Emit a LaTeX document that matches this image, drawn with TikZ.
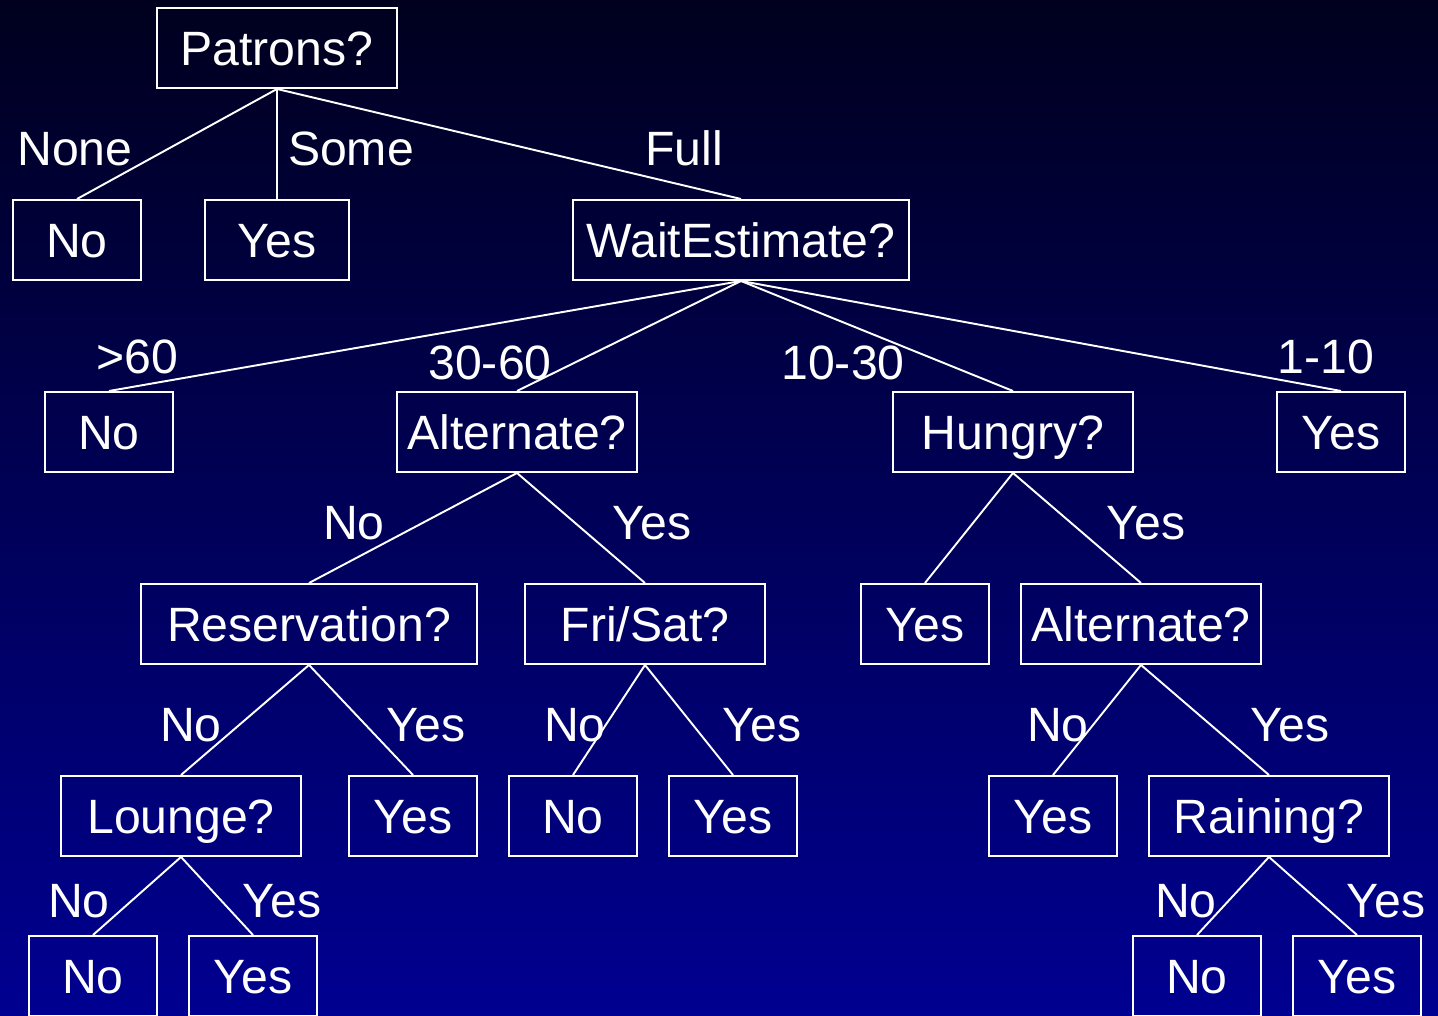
\documentclass[tikz,border=0pt]{standalone}
\usepackage{fontspec}
\setmainfont{Liberation Sans}
\definecolor{bgtop}{RGB}{0,0,30}
\definecolor{bgbot}{RGB}{0,0,145}

\begin{document}
\begin{tikzpicture}[x=0.01cm,y=-0.01cm,
  tbox/.style={draw=white,line width=0.55pt,text=white,inner sep=0pt,minimum height=0.8cm,
    text height=9.8pt,text depth=0pt,font=\fontsize{13.7}{16}\selectfont},
  lbl/.style={text=white,inner sep=0pt,text height=9.8pt,text depth=0pt,
    font=\fontsize{13.7}{16}\selectfont},
  edge/.style={draw=white,line width=0.55pt}]
  \shade[top color=bgtop,bottom color=bgbot] (0,0) rectangle (1438,1016);
  \useasboundingbox (0,0) rectangle (1438,1016);

  \node[tbox,minimum width=2.40cm] (patrons) at (277,48) {Patrons?};
  \node[tbox,minimum width=1.28cm] (none) at (77,240) {No};
  \node[tbox,minimum width=1.44cm] (some) at (277,240) {Yes};
  \node[tbox,minimum width=3.36cm] (wait) at (741,240) {WaitEstimate?};

  \node[tbox,minimum width=1.28cm] (over) at (109,432) {No};
  \node[tbox,minimum width=2.40cm] (alt) at (517,432) {Alternate?};
  \node[tbox,minimum width=2.40cm] (hungry) at (1013,432) {Hungry?};
  \node[tbox,minimum width=1.28cm] (short) at (1341,432) {Yes};

  \node[tbox,minimum width=3.36cm] (reserv) at (309,624) {Reservation?};
  \node[tbox,minimum width=2.40cm] (frisat) at (645,624) {Fri/Sat?};
  \node[tbox,minimum width=1.28cm] (hno) at (925,624) {Yes};
  \node[tbox,minimum width=2.40cm] (alttwo) at (1141,624) {Alternate?};

  \node[tbox,minimum width=2.40cm] (lounge) at (181,816) {Lounge?};
  \node[tbox,minimum width=1.28cm] (resyes) at (413,816) {Yes};
  \node[tbox,minimum width=1.28cm] (frino) at (573,816) {No};
  \node[tbox,minimum width=1.28cm] (friyes) at (733,816) {Yes};
  \node[tbox,minimum width=1.28cm] (altno) at (1053,816) {Yes};
  \node[tbox,minimum width=2.40cm] (rain) at (1269,816) {Raining?};

  \node[tbox,minimum width=1.28cm] (lno) at (93,976) {No};
  \node[tbox,minimum width=1.28cm] (lyes) at (253,976) {Yes};
  \node[tbox,minimum width=1.28cm] (rno) at (1197,976) {No};
  \node[tbox,minimum width=1.28cm] (ryes) at (1357,976) {Yes};

  \draw[edge] (patrons.south) -- (none.north);
  \draw[edge] (patrons.south) -- (some.north);
  \draw[edge] (patrons.south) -- (wait.north);
  \draw[edge] (wait.south) -- (over.north);
  \draw[edge] (wait.south) -- (alt.north);
  \draw[edge] (wait.south) -- (hungry.north);
  \draw[edge] (wait.south) -- (short.north);
  \draw[edge] (alt.south) -- (reserv.north);
  \draw[edge] (alt.south) -- (frisat.north);
  \draw[edge] (hungry.south) -- (hno.north);
  \draw[edge] (hungry.south) -- (alttwo.north);
  \draw[edge] (reserv.south) -- (lounge.north);
  \draw[edge] (reserv.south) -- (resyes.north);
  \draw[edge] (frisat.south) -- (frino.north);
  \draw[edge] (frisat.south) -- (friyes.north);
  \draw[edge] (alttwo.south) -- (altno.north);
  \draw[edge] (alttwo.south) -- (rain.north);
  \draw[edge] (lounge.south) -- (lno.north);
  \draw[edge] (lounge.south) -- (lyes.north);
  \draw[edge] (rain.south) -- (rno.north);
  \draw[edge] (rain.south) -- (ryes.north);

  \node[lbl] (lnone) at (75,148) {None};
  \node[lbl] (lsome) at (351,148) {Some};
  \node[lbl] (lfull) at (684,148) {Full};
  \node[lbl] (lsixty) at (137,356) {>60};
  \node[lbl] (lthirty) at (490,362) {30-60};
  \node[lbl] (lten) at (843,362) {10-30};
  \node[lbl] (lone) at (1326,356) {1-10};
  \node[lbl] (laltno) at (354,522) {No};
  \node[lbl] (laltyes) at (652,522) {Yes};
  \node[lbl] (lhyes) at (1146,522) {Yes};
  \node[lbl] (lresno) at (191,724) {No};
  \node[lbl] (lresyes) at (426,724) {Yes};
  \node[lbl] (lfrino) at (575,724) {No};
  \node[lbl] (lfriyes) at (762,724) {Yes};
  \node[lbl] (laltwono) at (1058,724) {No};
  \node[lbl] (laltwoyes) at (1290,724) {Yes};
  \node[lbl] (llno) at (79,900) {No};
  \node[lbl] (llyes) at (282,900) {Yes};
  \node[lbl] (lrno) at (1186,900) {No};
  \node[lbl] (lryes) at (1386,900) {Yes};
\end{tikzpicture}
\end{document}
